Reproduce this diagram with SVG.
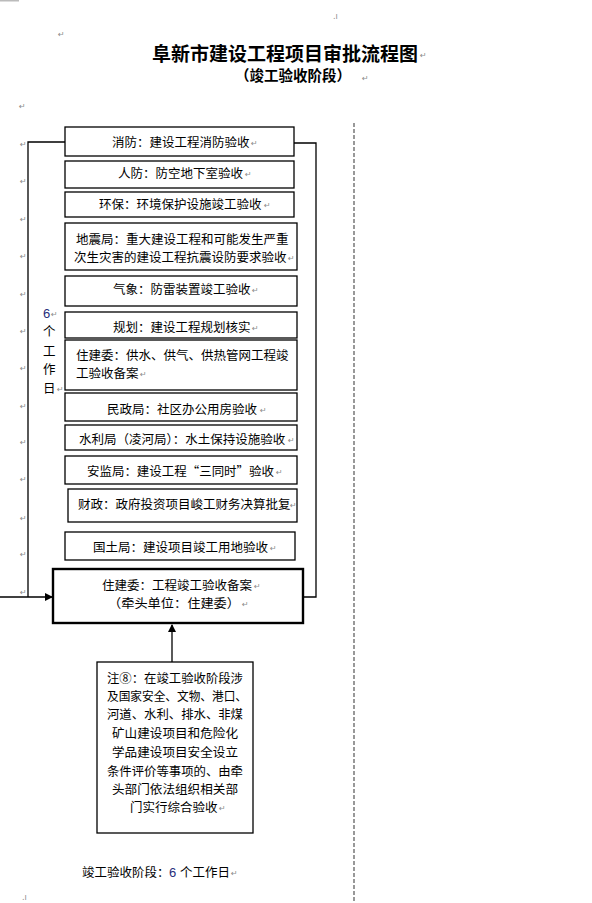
<svg xmlns="http://www.w3.org/2000/svg" width="592" height="903" viewBox="0 0 592 903">
<style>
.t{font-family:"Noto Sans CJK SC","Noto Sans CJK TC",sans-serif;font-size:12.5px;fill:#000}
.p{font-family:"DejaVu Sans",sans-serif;font-size:8px;fill:#8a8a8a;font-weight:400}
.box{fill:#fff;stroke:#000;stroke-width:1.3}
.ln{fill:none;stroke:#000;stroke-width:1.3}
.n6{font-family:"Liberation Sans",sans-serif;font-size:13px;fill:#1f2d7a}
</style>
<defs>
<marker id="ah" markerWidth="8" markerHeight="8" refX="7" refY="4" orient="auto" markerUnits="userSpaceOnUse">
<path d="M0,0 L8,4 L0,8 Z" fill="#000"/>
</marker>
</defs>
<rect width="592" height="903" fill="#fff"/>
<rect x="0" y="0" width="19" height="1.5" fill="#bbb"/>

<g id="title">
<text x="152" y="61" style="font-family:'Noto Sans CJK SC',sans-serif;font-size:19px;font-weight:700">阜新市建设工程项目审批流程图</text>
<text x="420" y="58" class="p">↵</text>
<text x="235" y="81" style="font-family:'Noto Sans CJK SC',sans-serif;font-size:14.5px;font-weight:700">（竣工验收阶段）</text>
<text x="362" y="81" class="p">↵</text>
</g>

<g id="marks">
<text x="333" y="19" class="p" font-size="6">.ı</text>
<text x="58" y="37" class="p">↵</text>
<text x="19" y="109" class="p">↵</text>
<text x="20" y="147" class="p">↵</text>
<text x="20" y="184" class="p">↵</text>
<text x="20" y="222" class="p">↵</text>
<text x="20" y="259" class="p">↵</text>
<text x="20" y="297" class="p">↵</text>
<text x="20" y="334" class="p">↵</text>
<text x="20" y="371" class="p">↵</text>
<text x="20" y="409" class="p">↵</text>
<text x="20" y="445" class="p">↵</text>
<text x="20" y="482" class="p">↵</text>
<text x="20" y="521" class="p">↵</text>
<text x="20" y="557" class="p">↵</text>
<text x="20" y="595" class="p">↵</text>
<text x="22" y="900" class="p" font-size="6">.ı</text>
</g>

<line x1="354" y1="123" x2="354" y2="903" stroke="#555" stroke-width="1.2" stroke-dasharray="4,2"/>

<g id="connectors">
<polyline class="ln" points="65,142 28,142 28,597"/>
<line class="ln" x1="0" y1="597" x2="52" y2="597" marker-end="url(#ah)"/>
<polyline class="ln" points="294,143 316,143 316,597 303,597"/>
<line class="ln" x1="172" y1="662" x2="172" y2="625" marker-end="url(#ah)"/>
</g>

<g id="n1"><rect class="box" x="65" y="127" width="229" height="29"/>
<text class="t" x="112" y="147">消防：建设工程消防验收</text><text class="p" x="251" y="146">↵</text></g>

<g id="n2"><rect class="box" x="65" y="161" width="229" height="27"/>
<text class="t" x="118" y="178">人防：防空地下室验收</text><text class="p" x="245" y="177">↵</text></g>

<g id="n3"><rect class="box" x="65" y="192" width="229" height="25"/>
<text class="t" x="99" y="209">环保：环境保护设施竣工验收</text><text class="p" x="264" y="208">↵</text></g>

<g id="n4"><rect class="box" x="65" y="223" width="232" height="47"/>
<text class="t" x="76" y="244">地震局：重大建设工程和可能发生严重</text>
<text class="t" x="74" y="262">次生灾害的建设工程抗震设防要求验收</text><text class="p" x="288" y="261">↵</text></g>

<g id="n5"><rect class="box" x="65" y="276" width="232" height="30"/>
<text class="t" x="113" y="294">气象：防雷装置竣工验收</text><text class="p" x="252" y="293">↵</text></g>

<g id="n6"><rect class="box" x="65" y="312" width="232" height="26"/>
<text class="t" x="113" y="332">规划：建设工程规划核实</text><text class="p" x="252" y="331">↵</text></g>

<g id="n7"><rect class="box" x="65" y="340" width="232" height="50"/>
<text class="t" x="76" y="360">住建委：供水、供气、供热管网工程竣</text>
<text class="t" x="76" y="378">工验收备案</text><text class="p" x="140" y="377">↵</text></g>

<g id="n8"><rect class="box" x="65" y="393" width="232" height="28"/>
<text class="t" x="107" y="414">民政局：社区办公用房验收</text><text class="p" x="260" y="413">↵</text></g>

<g id="n9"><rect class="box" x="65" y="425" width="232" height="25"/>
<text class="t" x="79" y="444" font-size="12.2">水利局（凌河局）：水土保持设施验收</text><text class="p" x="288" y="443">↵</text></g>

<g id="n10"><rect class="box" x="65" y="456" width="232" height="28"/>
<text class="t" x="87" y="476" textLength="187" lengthAdjust="spacingAndGlyphs">安监局：建设工程“三同时”验收</text><text class="p" x="276" y="475">↵</text></g>

<g id="n11"><rect class="box" x="68" y="489" width="229" height="33"/>
<text class="t" x="78" y="509" font-size="12.4">财政：政府投资项目峻工财务决算批复</text><text class="p" x="290" y="508">↵</text></g>

<g id="n12"><rect class="box" x="65" y="532" width="230" height="28"/>
<text class="t" x="93" y="552">国土局：建设项目竣工用地验收</text><text class="p" x="270" y="551">↵</text></g>

<g id="main"><rect x="53" y="569" width="250" height="54" fill="#fff" stroke="#000" stroke-width="2.4"/>
<text class="t" x="102" y="590">住建委：工程竣工验收备案</text><text class="p" x="254" y="589">↵</text>
<text class="t" x="108" y="608" textLength="132" lengthAdjust="spacingAndGlyphs">（牵头单位：住建委）</text><text class="p" x="242" y="607">↵</text></g>

<g id="label6">
<text class="n6" x="43" y="318">6</text><text class="p" x="51" y="317">↵</text>
<text class="t" x="43" y="336">个</text>
<text class="t" x="43" y="356">工</text>
<text class="t" x="43" y="374">作</text>
<text class="t" x="43" y="393">日</text><text class="p" x="57" y="392">↵</text>
</g>

<g id="note"><rect class="box" x="97" y="662" width="156" height="171"/>
<text class="t" x="107" y="683" textLength="136" lengthAdjust="spacingAndGlyphs">注⑧：在竣工验收阶段涉</text>
<text class="t" x="107" y="701" textLength="140" lengthAdjust="spacingAndGlyphs">及国家安全、文物、港口、</text>
<text class="t" x="107" y="719" textLength="136" lengthAdjust="spacingAndGlyphs">河道、水利、排水、非煤</text>
<text class="t" x="112" y="738" textLength="126" lengthAdjust="spacingAndGlyphs">矿山建设项目和危险化</text>
<text class="t" x="112" y="757" textLength="126" lengthAdjust="spacingAndGlyphs">学品建设项目安全设立</text>
<text class="t" x="107" y="776" textLength="136" lengthAdjust="spacingAndGlyphs">条件评价等事项的、由牵</text>
<text class="t" x="112" y="794" textLength="126" lengthAdjust="spacingAndGlyphs">头部门依法组织相关部</text>
<text class="t" x="130" y="812">门实行综合验收</text><text class="p" x="219" y="811">↵</text>
</g>

<g id="footer">
<text class="t" x="82" y="877" font-size="12">竣工验收阶段：</text>
<text class="n6" x="169" y="877">6</text>
<text class="t" x="180" y="877" font-size="12.2">个工作日</text><text class="p" x="231" y="876">↵</text>
</g>
</svg>
